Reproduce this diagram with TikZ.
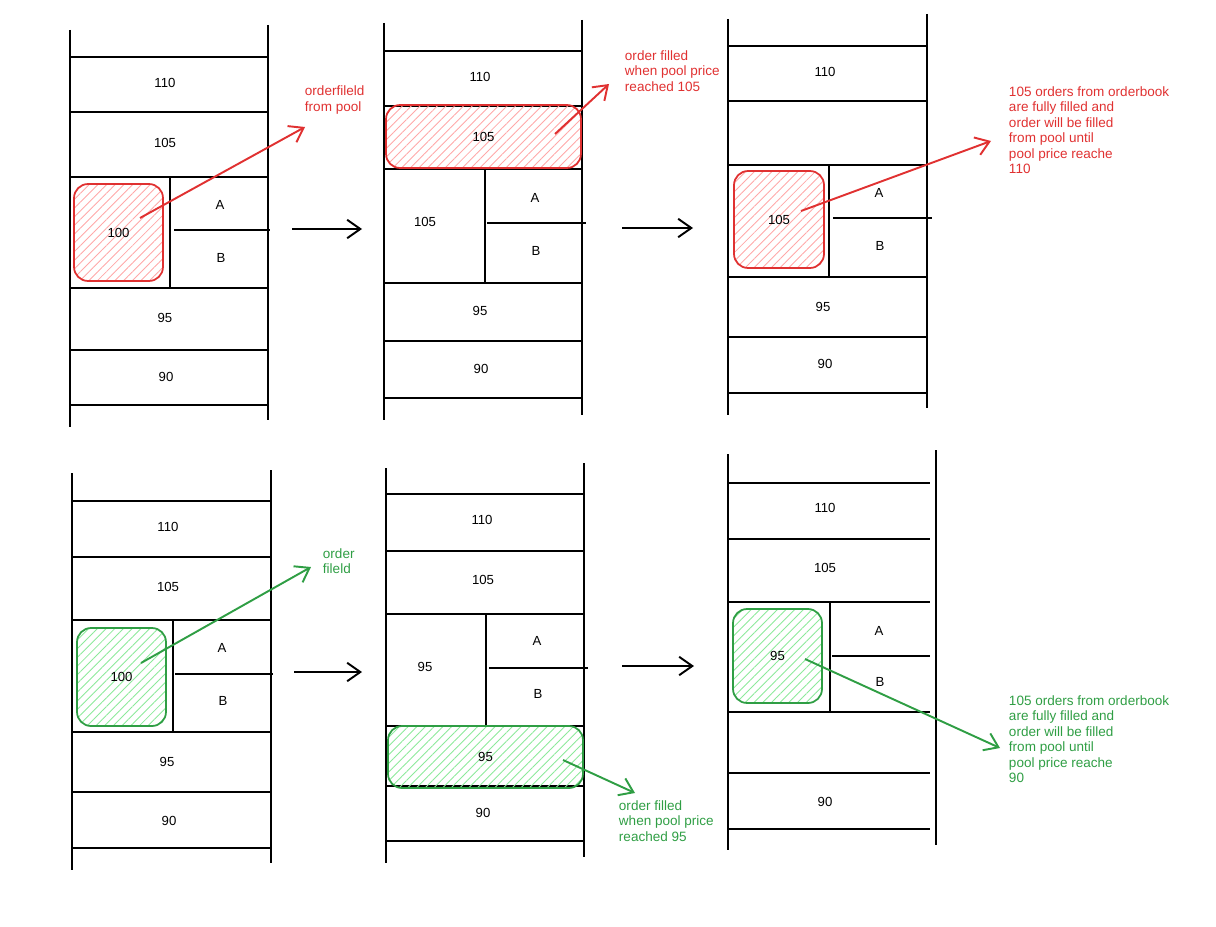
\documentclass[tikz,border=0pt]{standalone}
\usepackage{fontspec}
\setmainfont{Liberation Sans}
\usetikzlibrary{arrows.meta,patterns.meta}
\definecolor{penred}{HTML}{E03131}
\definecolor{pengreen}{HTML}{2F9E44}
\definecolor{hatchred}{HTML}{FFA8A8}
\definecolor{hatchgreen}{HTML}{8CE99A}

\begin{document}
\begin{tikzpicture}[x=0.02cm, y=-0.02cm, line width=1.1pt,
  price/.style = {font=\fontsize{7.5}{9}\selectfont},
  redbox/.style = {draw=penred, line width=1pt, rounded corners=8pt, inner sep=0pt,
    pattern={Lines[angle=45,distance=3.5pt,line width=0.5pt]}, pattern color=hatchred, font=\fontsize{7.5}{9}\selectfont},
  greenbox/.style = {redbox, draw=pengreen, pattern color=hatchgreen},
  note/.style = {align=left, anchor=west, inner sep=0pt, font=\fontsize{7.7}{8.8}\selectfont},
  move/.style = {-{Straight Barb[length=7.5pt,width=10.5pt]}, line width=1.1pt},
]

\useasboundingbox (0,0) rectangle (1216,926);

% top row
\draw (70,30) -- (70,427);
\draw (268,25) -- (268,420);
\draw (70,57) -- (268,57);
\draw (70,112) -- (268,112);
\draw (70,177) -- (268,177);
\draw (70,288) -- (268,288);
\draw (70,350) -- (268,350);
\draw (70,405) -- (268,405);
\draw (170,177) -- (170,288);
\draw (174,230) -- (270,230);

\node[price] (a110) at (165,83) {110};
\node[price] (a105) at (165,143) {105};
\node[price] (aA) at (220,205) {A};
\node[price] (aB) at (221,258) {B};
\node[price] (a95) at (165,318) {95};
\node[price] (a90) at (166,377) {90};
\node[redbox, minimum width=1.78cm, minimum height=1.94cm] (abox) at (118.5,232.5) {100};

\draw (384,23) -- (384,420);
\draw (582,20) -- (582,415);
\draw (384,51) -- (582,51);
\draw (384,106) -- (582,106);
\draw (384,169) -- (582,169);
\draw (384,283) -- (582,283);
\draw (384,341) -- (582,341);
\draw (384,398) -- (582,398);
\draw (485,169) -- (485,283);
\draw (487,223) -- (586,223);

\node[price] (b110) at (480,77) {110};
\node[price] (b105) at (425,222) {105};
\node[price] (bA) at (535,198) {A};
\node[price] (bB) at (536,251) {B};
\node[price] (b95) at (480,311) {95};
\node[price] (b90) at (481,369) {90};
\node[redbox, minimum width=3.9cm, minimum height=1.26cm] (bbox) at (483.5,136.5) {105};

\draw (728,19) -- (728,415);
\draw (927,14) -- (927,408);
\draw (728,46) -- (927,46);
\draw (728,101) -- (927,101);
\draw (728,165) -- (927,165);
\draw (728,277) -- (927,277);
\draw (728,337) -- (927,337);
\draw (728,393) -- (927,393);
\draw (829,165) -- (829,277);
\draw (833,218) -- (932,218);

\node[price] (c110) at (825,72) {110};
\node[price] (cA) at (879,193) {A};
\node[price] (cB) at (880,246) {B};
\node[price] (c95) at (823,307) {95};
\node[price] (c90) at (825,364) {90};
\node[redbox, minimum width=1.8cm, minimum height=1.94cm] (cbox) at (779,219.5) {105};

% bottom row
\draw (72,473) -- (72,870);
\draw (271,470) -- (271,863);
\draw (72,501) -- (271,501);
\draw (72,557) -- (271,557);
\draw (72,620) -- (271,620);
\draw (72,732) -- (271,732);
\draw (72,792) -- (271,792);
\draw (72,848) -- (271,848);
\draw (173,620) -- (173,732);
\draw (175,674) -- (273,674);

\node[price] (d110) at (168,527) {110};
\node[price] (d105) at (168,587) {105};
\node[price] (dA) at (222,648) {A};
\node[price] (dB) at (223,701) {B};
\node[price] (d95) at (167,762) {95};
\node[price] (d90) at (169,821) {90};
\node[greenbox, minimum width=1.78cm, minimum height=1.96cm] (dbox) at (121.5,677) {100};

\draw (386,468) -- (386,863);
\draw (584,463) -- (584,857);
\draw (386,494) -- (584,494);
\draw (386,551) -- (584,551);
\draw (386,614) -- (584,614);
\draw (386,726) -- (584,726);
\draw (386,786) -- (584,786);
\draw (386,841) -- (584,841);
\draw (486,614) -- (486,726);
\draw (489,668) -- (588,668);

\node[price] (e110) at (482,520) {110};
\node[price] (e105) at (483,580) {105};
\node[price] (e95) at (425,667) {95};
\node[price] (eA) at (537,641) {A};
\node[price] (eB) at (538,694) {B};
\node[price] (e90) at (483,813) {90};
\node[greenbox, minimum width=3.9cm, minimum height=1.24cm] (ebox) at (485.5,757) {95};

\draw (728,454) -- (728,850);
\draw (936,450) -- (936,845);
\draw (728,483) -- (930,483);
\draw (728,539) -- (930,539);
\draw (728,602) -- (930,602);
\draw (728,712) -- (930,712);
\draw (728,773) -- (930,773);
\draw (728,829) -- (930,829);
\draw (830,602) -- (830,712);
\draw (832,656) -- (930,656);

\node[price] (f110) at (825,508) {110};
\node[price] (f105) at (825,568) {105};
\node[price] (fA) at (879,631) {A};
\node[price] (fB) at (880,682) {B};
\node[price] (f90) at (825,802) {90};
\node[greenbox, minimum width=1.78cm, minimum height=1.88cm] (fbox) at (777.5,656) {95};

% notes
\node[note, text=penred] (anote) at (304,100) {orderfileld\\from pool};
\node[note, text=penred] (bnote) at (624,71) {order filled\\when pool price\\reached 105};
\node[note, text=penred] (cnote) at (1008,130) {105 orders from orderbook\\are fully filled and\\order will be filled\\from pool until\\pool price reache\\110};
\node[note, text=pengreen] (dnote) at (322,561) {order\\fileld};
\node[note, text=pengreen] (enote) at (618,821) {order filled\\when pool price\\reached 95};
\node[note, text=pengreen] (fnote) at (1008,739) {105 orders from orderbook\\are fully filled and\\order will be filled\\from pool until\\pool price reache\\90};

\coordinate (as) at (140,218);
\coordinate (ae) at (305,127);
\coordinate (bs) at (555,134);
\coordinate (be) at (609,84);
\coordinate (cs) at (801,211);
\coordinate (ce) at (991,141);
\coordinate (ds) at (141,663);
\coordinate (de) at (311,567);
\coordinate (es) at (563,760);
\coordinate (ee) at (635,793);
\coordinate (fs) at (805,659);
\coordinate (fe) at (1000,748);

\draw[move, penred] (as) -- (ae);
\draw[move, penred] (bs) -- (be);
\draw[move, penred] (cs) -- (ce);
\draw[move, pengreen] (ds) -- (de);
\draw[move, pengreen] (es) -- (ee);
\draw[move, pengreen] (fs) -- (fe);

\coordinate (ab1) at (292,229);
\coordinate (ab2) at (362,229);
\coordinate (bc1) at (622,228);
\coordinate (bc2) at (693,228);
\coordinate (de1) at (294,672);
\coordinate (de2) at (362,672);
\coordinate (ef1) at (622,666);
\coordinate (ef2) at (694,666);

\draw[move] (ab1) -- (ab2);
\draw[move] (bc1) -- (bc2);
\draw[move] (de1) -- (de2);
\draw[move] (ef1) -- (ef2);

\end{tikzpicture}
\end{document}
